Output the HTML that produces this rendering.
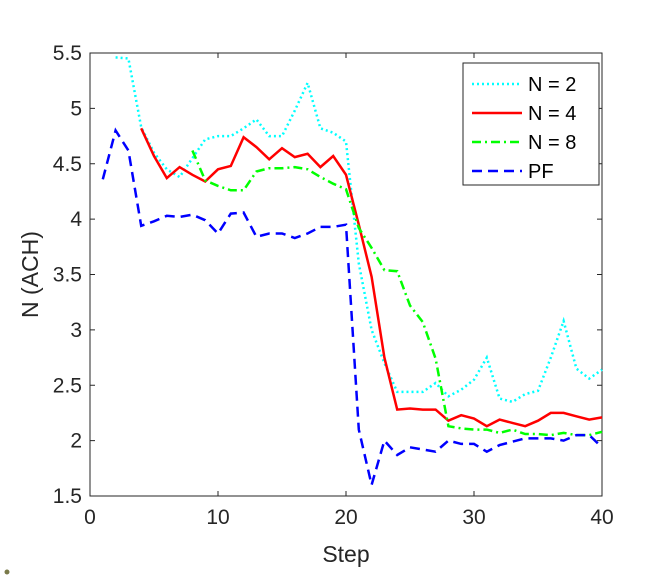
<!DOCTYPE html>
<html><head><meta charset="utf-8"><style>
body{margin:0;background:#fff;}
svg text{font-family:"Liberation Sans",Arial,sans-serif;}
</style></head><body>
<svg id="chart" width="664" height="577" xmlns="http://www.w3.org/2000/svg">
<g id="plot"></g>
<circle cx="7" cy="572" r="2.5" fill="#7a7a4a"/>
</svg>
<script>
const stepsN2=[2,3,4,5,6,7,8,9,10,11,12,13,14,15,16,17,18,19,20,21,22,23,24,25,26,27,28,29,30,31,32,33,34,35,36,37,38,39,40];
const valsN2=[5.46,5.45,4.83,4.6,4.45,4.38,4.55,4.72,4.75,4.75,4.82,4.9,4.75,4.75,4.98,5.23,4.82,4.78,4.7,3.6,3.0,2.7,2.44,2.44,2.44,2.52,2.4,2.46,2.55,2.75,2.38,2.35,2.42,2.45,2.75,3.08,2.65,2.56,2.64];
const stepsN4=[4,5,6,7,8,9,10,11,12,13,14,15,16,17,18,19,20,21,22,23,24,25,26,27,28,29,30,31,32,33,34,35,36,37,38,39,40];
const valsN4=[4.82,4.57,4.37,4.47,4.4,4.34,4.45,4.48,4.74,4.65,4.54,4.64,4.56,4.59,4.47,4.57,4.4,3.95,3.48,2.75,2.28,2.29,2.28,2.28,2.18,2.23,2.2,2.13,2.19,2.16,2.13,2.18,2.25,2.25,2.22,2.19,2.21];
const stepsN8=[8,9,10,11,12,13,14,15,16,17,18,19,20,21,22,23,24,25,26,27,28,29,30,31,32,33,34,35,36,37,38,39,40];
const valsN8=[4.62,4.35,4.3,4.26,4.26,4.43,4.46,4.46,4.47,4.45,4.38,4.32,4.27,3.92,3.74,3.54,3.53,3.22,3.07,2.74,2.13,2.11,2.1,2.1,2.07,2.1,2.06,2.06,2.05,2.07,2.05,2.05,2.08];
const stepsPF=[1,2,3,4,5,6,7,8,9,10,11,12,13,14,15,16,17,18,19,20,21,22,23,24,25,26,27,28,29,30,31,32,33,34,35,36,37,38,39,40];
const valsPF=[4.36,4.8,4.62,3.94,3.98,4.03,4.02,4.04,3.99,3.87,4.05,4.06,3.84,3.87,3.87,3.83,3.87,3.93,3.93,3.95,2.1,1.6,2.0,1.87,1.94,1.92,1.9,2.0,1.97,1.97,1.9,1.96,1.99,2.02,2.02,2.02,2.0,2.05,2.05,1.94];
const xTicks=[0,10,20,30,40];
const yTicks=[1.5,2,2.5,3,3.5,4,4.5,5,5.5];
const seriesNames=["N = 2","N = 4","N = 8","PF"];

const L=90,R=602,T=53,B=496;
const xs=v=>L+(v-0)/40*(R-L);
const ys=v=>B-(v-1.5)/4*(B-T);
const NS="http://www.w3.org/2000/svg";
const g=document.getElementById('plot');
function mk(tag,attrs,parent){const e=document.createElementNS(NS,tag);for(const k in attrs)e.setAttribute(k,attrs[k]);(parent||g).appendChild(e);return e;}

const box=mk('rect',{x:L,y:T,width:R-L,height:B-T,fill:'#fff',stroke:'#262626','stroke-width':1});



xTicks.forEach(t=>{
  const x=xs(t);
  const l1=mk('line',{x1:x,x2:x,y1:B,y2:B-5,stroke:'#262626'});
  
  
  mk('line',{x1:x,x2:x,y1:T,y2:T+5,stroke:'#262626'});
  const tx=mk('text',{x:x,y:B+28,'text-anchor':'middle','font-size':21,fill:'#262626'});
  tx.textContent=t;
  
  
});
yTicks.forEach(t=>{
  const y=ys(t);
  const l1=mk('line',{x1:L,x2:L+5,y1:y,y2:y,stroke:'#262626'});
  
  
  mk('line',{x1:R,x2:R-5,y1:y,y2:y,stroke:'#262626'});
  const tx=mk('text',{x:L-8,y:y+7,'text-anchor':'end','font-size':21,fill:'#262626'});
  tx.textContent=t;
  
  
});
const xt=mk('text',{x:(L+R)/2,y:562,'text-anchor':'middle','font-size':23,fill:'#262626'});
xt.textContent='Step';


const yt=mk('text',{x:0,y:0,'text-anchor':'middle','font-size':23,fill:'#262626',transform:`translate(38,${(T+B)/2}) rotate(-90)`});
yt.textContent='N (ACH)';



const styles=[
 {c:'#00ffff',d:'2,3',n:'series-n2'},
 {c:'#ff0000',d:'',n:'series-n4'},
 {c:'#00ff00',d:'9,4,2,4',n:'series-n8'},
 {c:'#0000ff',d:'10,6',n:'series-pf'}];
const data=[[stepsN2,valsN2],[stepsN4,valsN4],[stepsN8,valsN8],[stepsPF,valsPF]];
data.forEach((d,i)=>{
  const pts=d[0].map((s,j)=>xs(s).toFixed(1)+','+ys(d[1][j]).toFixed(1)).join(' ');
  const p=mk('polyline',{points:pts,fill:'none',stroke:styles[i].c,'stroke-width':2.5,'stroke-dasharray':styles[i].d});
  
  
});

const lg=mk('g',{});


mk('rect',{x:463,y:63,width:136,height:122,fill:'#fff',stroke:'#262626','stroke-width':1},lg);
seriesNames.forEach((n,i)=>{
  const y=84+i*29;
  const e=mk('g',{},lg);
  
  
  mk('line',{x1:472,x2:522,y1:y,y2:y,stroke:styles[i].c,'stroke-width':2.5,'stroke-dasharray':styles[i].d},e);
  const t=mk('text',{x:528,y:y+7,'font-size':20,fill:'#000'},e);
  t.textContent=n;
});
</script>
</body></html>
